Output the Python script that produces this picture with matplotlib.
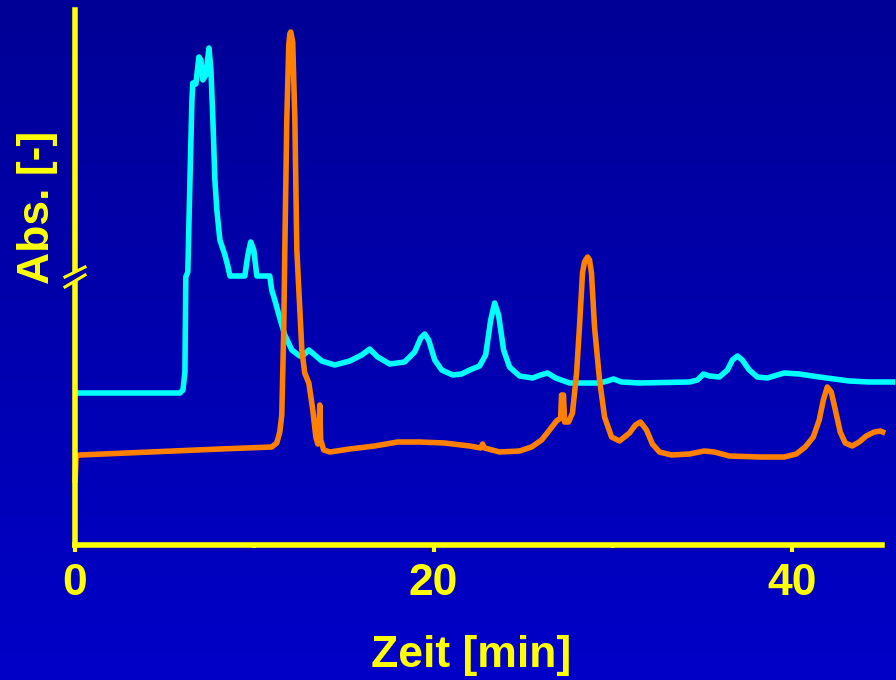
import numpy as np
import matplotlib
matplotlib.use("Agg")
from matplotlib import pyplot as plt

# retention time [min] and absorbance [arbitrary units]
cyan_t = [0.00, 5.85, 6.02, 6.13, 6.18, 6.29, 6.41, 6.52, 6.57, 6.74, 6.91, 7.02, 7.13, 7.30, 7.47,
          7.58, 7.69, 7.80, 7.91, 8.08, 8.36, 8.52, 8.64, 9.47, 9.64, 9.80, 9.97, 10.14, 10.86, 10.97,
          11.14, 11.37, 11.70, 12.09, 12.53, 12.75, 13.04, 13.37, 13.76, 14.48, 15.32, 15.99, 16.43, 16.88,
          17.55, 18.38, 18.94, 19.28, 19.50, 19.72, 20.06, 20.45, 21.06, 21.56, 22.01, 22.56, 22.90,
          23.18, 23.40, 23.62, 23.90, 24.23, 24.79, 25.52, 25.96, 26.35, 26.80, 27.58, 29.25, 29.69,
          30.03, 30.47, 31.48, 34.26, 34.71, 35.04, 35.38, 35.93, 36.38, 36.66, 36.94, 37.21, 37.60,
          38.05, 38.61, 39.16, 39.55, 40.39, 41.50, 43.18, 44.29, 45.74]
cyan_abs = [1.52, 1.52, 1.55, 1.73, 2.68, 2.73, 3.65, 4.45, 4.62, 4.61, 4.88, 4.85, 4.65, 4.70, 4.97,
            4.75, 4.25, 3.65, 3.35, 3.05, 2.90, 2.79, 2.69, 2.69, 2.90, 3.03, 2.95, 2.69, 2.69, 2.55,
            2.45, 2.30, 2.10, 1.95, 1.89, 1.90, 1.95, 1.90, 1.84, 1.80, 1.84, 1.90, 1.96, 1.88,
            1.81, 1.83, 1.93, 2.07, 2.11, 2.05, 1.85, 1.75, 1.70, 1.71, 1.75, 1.79, 1.90,
            2.25, 2.42, 2.30, 1.95, 1.78, 1.69, 1.67, 1.70, 1.72, 1.67, 1.62, 1.62, 1.64,
            1.66, 1.63, 1.62, 1.63, 1.65, 1.71, 1.69, 1.68, 1.75, 1.85, 1.89, 1.85, 1.75,
            1.68, 1.67, 1.70, 1.72, 1.71, 1.68, 1.64, 1.63, 1.63]

orange_t = [0.00, 0.06, 0.28, 4.18, 8.08, 10.97, 11.25, 11.42, 11.53, 11.64, 11.70, 11.81, 11.92,
            11.98, 12.03, 12.14, 12.26, 12.37, 12.65, 12.81, 13.04, 13.26, 13.43, 13.54, 13.59,
            13.65, 13.70, 13.87, 14.21, 15.32, 16.71, 17.99, 19.22, 20.61, 22.01, 22.62, 22.73,
            22.84, 23.68, 24.79, 25.46, 26.02, 26.46, 26.85, 27.08, 27.13, 27.24, 27.30, 27.52,
            27.74, 27.97, 28.13, 28.30, 28.41, 28.58, 28.69, 28.80, 28.97, 29.25, 29.53, 29.92,
            30.36, 30.92, 31.25, 31.53, 31.87, 32.20, 32.59, 33.26, 34.26, 35.10, 35.65, 36.49,
            38.16, 39.55, 40.22, 40.72, 41.17, 41.50, 41.73, 41.95, 42.17, 42.40, 42.67, 42.95,
            43.34, 43.73, 44.12, 44.57, 44.90, 45.18]
orange_abs = [0.62, 0.89, 0.90, 0.93, 0.96, 0.98, 1.02, 1.13, 1.30, 2.15, 2.95, 4.25, 5.00,
              5.11, 5.13, 5.03, 4.25, 2.95, 1.95, 1.72, 1.62, 1.35, 1.08, 1.01, 1.05,
              1.40, 1.05, 0.95, 0.93, 0.96, 0.99, 1.03, 1.03, 1.02, 0.99, 0.97, 1.01,
              0.97, 0.93, 0.94, 0.98, 1.05, 1.15, 1.24, 1.27, 1.50, 1.50, 1.23, 1.23,
              1.32, 1.72, 2.18, 2.72, 2.83, 2.88, 2.85, 2.72, 2.18, 1.65, 1.28, 1.08,
              1.04, 1.12, 1.20, 1.23, 1.15, 1.01, 0.93, 0.90, 0.91, 0.94, 0.93, 0.89,
              0.88, 0.88, 0.91, 0.98, 1.08, 1.25, 1.45, 1.58, 1.53, 1.35, 1.13, 1.02,
              0.99, 1.03, 1.09, 1.13, 1.14, 1.12]

x_ticks = [0, 20, 40]
x_minor = [10, 30]

yellow = '#FFFF00'
font = ['Liberation Sans', 'DejaVu Sans']

fig = plt.figure(figsize=(8.96, 6.8), dpi=100)

# blue gradient background
bg = fig.add_axes([0, 0, 1, 1], zorder=-10)
grad = np.linspace(0, 1, 256).reshape(-1, 1)
top = np.array([0, 0, 150]) / 255
bottom = np.array([0, 0, 200]) / 255
img = top + (bottom - top) * grad[:, :, None]
bg.imshow(img, aspect='auto', extent=[0, 1, 0, 1], origin='upper')
bg.set_axis_off()

ax = fig.add_axes([75 / 896, 135 / 680, 807 / 896, 535 / 680])
ax.set_facecolor('none')
ax.plot(cyan_t, cyan_abs, color='#00FFFF', lw=4, solid_joinstyle='round', solid_capstyle='butt', clip_on=False)
ax.plot(orange_t, orange_abs, color='#FF8000', lw=4, solid_joinstyle='round', solid_capstyle='butt', clip_on=False)

ax.set_xlim(0, 45)
ax.set_ylim(0, 5.35)
for s in ['top', 'right']:
    ax.spines[s].set_visible(False)
for s in ['left', 'bottom']:
    ax.spines[s].set_color(yellow)
    ax.spines[s].set_linewidth(4)
ax.set_yticks([])
ax.set_xticks(x_ticks)
ax.set_xticks(x_minor, minor=True)
ax.tick_params(axis='x', which='major', colors=yellow, length=5, width=3, pad=8)
ax.tick_params(axis='x', which='minor', colors=yellow, length=2, width=3)
for lbl in ax.get_xticklabels():
    lbl.set_fontsize(32)
    lbl.set_fontweight('bold')
    lbl.set_family(font)

# axis break mark on the y axis
brk_col = (0, 0, 170 / 255)
ax.plot([-0.45, 0.45], [2.62, 2.74], color=brk_col, lw=5, clip_on=False, zorder=5)
ax.plot([-0.56, 0.56], [2.68, 2.78], color=yellow, lw=2.2, clip_on=False, zorder=6)
ax.plot([-0.56, 0.56], [2.58, 2.70], color=yellow, lw=2.2, clip_on=False, zorder=6)

fig.text(471 / 896, 1 - 655 / 680, 'Zeit [min]', color=yellow, fontsize=32, fontweight='bold',
         family=font, ha='center', va='center')
fig.text(37 / 896, 1 - 207 / 680, 'Abs. [-]', color=yellow, fontsize=32, fontweight='bold',
         family=font, ha='center', va='center', rotation=90)

fig.savefig('out.png', dpi=100)
